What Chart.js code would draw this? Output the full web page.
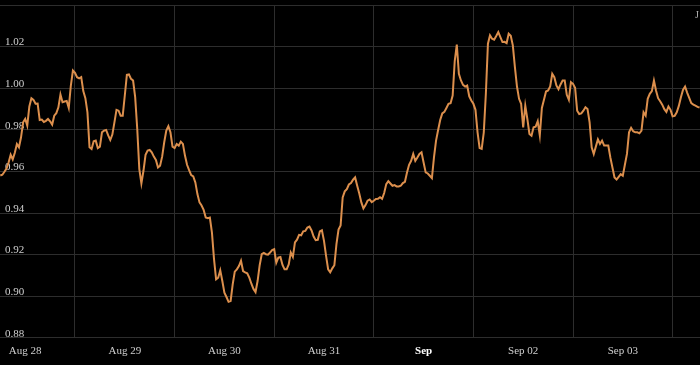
<!DOCTYPE html>
<html>
<head>
<meta charset="utf-8">
<script src="https://cdn.jsdelivr.net/npm/chart.js@4"></script>
<style>
  html, body { margin: 0; padding: 0; background: #000; }
  #contenedor { width: 700px; height: 365px; }
</style>
</head>
<body>
<div id="contenedor"><canvas id="grafica"></canvas></div>
<script>
// serie cada media hora, empezando el 28 ago a las 06:00 (horas desde 28 ago 00:00)
const horaInicio = 6;
const pasoHoras = 0.5;

const valores = [
  0.958, 0.9584, 0.9598, 0.9614, 0.9643, 0.968, 0.9658, 0.969, 0.9732, 0.9716,
  0.9764, 0.9836, 0.9852, 0.982, 0.9912, 0.9952, 0.9944, 0.9925, 0.9926, 0.9847,
  0.9849, 0.9838, 0.9843, 0.9852, 0.9841, 0.9825, 0.9868, 0.988, 0.9908, 0.997,
  0.9933, 0.9936, 0.9939, 0.9905, 1.0013, 1.0085, 1.0074, 1.0053, 1.0047, 1.0053,
  0.9986, 0.9952, 0.9884, 0.9716, 0.9708, 0.9745, 0.9748, 0.9712, 0.9719,
  0.9788, 0.9796, 0.9799, 0.9773, 0.9751, 0.9777, 0.9836, 0.9896, 0.9892, 0.9868,
  0.9868, 0.9965, 1.0064, 1.0066, 1.0045, 1.0037, 0.9957, 0.9804, 0.9611, 0.9542,
  0.9603, 0.968, 0.97, 0.9703, 0.9692, 0.9671, 0.9655, 0.9619, 0.9627, 0.9671,
  0.974, 0.9796, 0.9817, 0.9788, 0.9719, 0.9712, 0.9732, 0.9724, 0.9743, 0.9732,
  0.9676, 0.9632, 0.9606, 0.9582, 0.9576, 0.9547, 0.9491, 0.9451,
  0.9436, 0.9415, 0.9378, 0.9375, 0.9378, 0.9306, 0.9178, 0.9081, 0.9089, 0.9124,
  0.9073, 0.9017, 0.8996, 0.8973, 0.8977, 0.9057, 0.9118, 0.9129, 0.9145, 0.917,
  0.9121, 0.9115, 0.911, 0.9089, 0.906, 0.9035, 0.902, 0.9073, 0.9149, 0.9202,
  0.9208, 0.9202, 0.92, 0.921, 0.9222, 0.9226, 0.9161, 0.9186, 0.9189, 0.915,
  0.9129, 0.9129, 0.9153, 0.921, 0.9189, 0.9259, 0.9272, 0.9295,
  0.9293, 0.9312, 0.9314, 0.933, 0.9335, 0.9316, 0.9287, 0.9269, 0.9271, 0.9311,
  0.9317, 0.9266, 0.9194, 0.9129, 0.9115, 0.9134, 0.9149, 0.925, 0.932, 0.934,
  0.9475, 0.9504, 0.9515, 0.9537, 0.9544, 0.956, 0.9571, 0.9531, 0.9494, 0.9451,
  0.9422, 0.9438, 0.9459, 0.9465, 0.9452, 0.9459, 0.9467, 0.9468, 0.9476, 0.9468,
  0.9496, 0.9539, 0.9553, 0.9542, 0.9531, 0.9534, 0.9528, 0.9528,
  0.9531, 0.9544, 0.955, 0.9595, 0.9632, 0.9651, 0.9684, 0.9651, 0.9667, 0.9684,
  0.9692, 0.9643, 0.9595, 0.959, 0.9579, 0.9568, 0.9667, 0.9748, 0.9799, 0.9847,
  0.9879, 0.9886, 0.9905, 0.9925, 0.9928, 0.9965, 1.013, 1.021, 1.0069, 1.0037,
  1.0016, 1.0008, 1.0013, 0.9961, 0.9941, 0.9925, 0.9896, 0.9788, 0.9712, 0.9708,
  0.9788, 0.9973, 1.0214, 1.0254, 1.0238, 1.0233, 1.0251, 1.027,
  1.0246, 1.0222, 1.0223, 1.0217, 1.0262, 1.0252, 1.0206, 1.0101, 1.0008, 0.9949,
  0.9925, 0.9812, 0.9916, 0.9852, 0.978, 0.9772, 0.9812, 0.9815, 0.9841, 0.9773,
  0.9905, 0.9944, 0.9984, 0.9989, 1.0008, 1.0069, 1.0053, 1.0013, 0.9995, 1.0018,
  1.0037, 1.0037, 0.9968, 0.9944, 1.0029, 1.0021, 1.0002, 0.9892, 0.9876, 0.9879,
  0.9892, 0.9908, 0.99, 0.9836, 0.9716, 0.9684, 0.9719, 0.9754, 0.9732,
  0.9748, 0.9724, 0.9724, 0.9724, 0.9667, 0.9619, 0.9571, 0.9561, 0.9574, 0.9587,
  0.9579, 0.9632, 0.9684, 0.9788, 0.9809, 0.9793, 0.9788, 0.9788, 0.9783, 0.9796,
  0.9884, 0.9868, 0.9949, 0.9973, 0.9986, 1.0037, 0.9989, 0.9952, 0.9937, 0.9921,
  0.9899, 0.9886, 0.9912, 0.9896, 0.9865, 0.9867, 0.9884, 0.9915, 0.9957, 0.9992,
  1.0008, 0.9979, 0.9953, 0.9928, 0.9921, 0.9916, 0.991, 0.9907
];

// cortes de día (horas) y etiqueta del día que empieza 24 h antes
const cortesDia = [24, 48, 72, 96, 120, 144, 168];
const etiquetasDia = ['Aug 28', 'Aug 29', 'Aug 30', 'Aug 31', 'Sep', 'Sep 02', 'Sep 03'];
const marcasY = [0.88, 0.90, 0.92, 0.94, 0.96, 0.98, 1.00, 1.02, 1.04];

const colorRejilla = '#2d2d2d';
const fuente = 'Liberation Serif';

const puntos = valores.map((v, i) => ({ x: horaInicio + i * pasoHoras, y: v }));

// texto recortado arriba a la derecha
const textoEsquina = {
  id: 'textoEsquina',
  afterDraw(chart) {
    const ctx = chart.ctx;
    ctx.save();
    ctx.fillStyle = '#b0b0b0';
    ctx.font = '10px ' + fuente;
    ctx.textBaseline = 'alphabetic';
    ctx.fillText('J', 695, 18);
    ctx.restore();
  }
};

const ctx = document.getElementById('grafica').getContext('2d');
new Chart(ctx, {
  type: 'line',
  data: {
    datasets: [{
      data: puntos,
      borderColor: '#dc8f4d',
      borderWidth: 2,
      pointRadius: 0,
      tension: 0
    }]
  },
  options: {
    responsive: true,
    maintainAspectRatio: false,
    animation: false,
    layout: { padding: { top: 5, bottom: 0, left: 0, right: 0 } },
    plugins: {
      legend: { display: false },
      tooltip: { enabled: false }
    },
    scales: {
      x: {
        type: 'linear',
        min: 5.93,
        max: 174.6,
        afterBuildTicks: s => { s.ticks = cortesDia.map(v => ({ value: v })); },
        afterFit: s => { s.paddingLeft = 0; s.paddingRight = 0; },
        grid: { color: colorRejilla, lineWidth: 1, drawTicks: false },
        border: { display: false },
        ticks: {
          autoSkip: false,
          maxRotation: 0,
          labelOffset: -49.8,
          padding: 7,
          color: c => c.index === 4 ? '#ffffff' : '#cfcfcf',
          font: c => ({ family: fuente, size: 11, weight: c.index === 4 ? 'bold' : 'normal' }),
          callback: (v, i) => etiquetasDia[i]
        }
      },
      y: {
        min: 0.88,
        max: 1.04,
        afterBuildTicks: s => { s.ticks = marcasY.map(v => ({ value: v })); },
        afterFit: s => { s.width = 0; s.paddingTop = 0; s.paddingBottom = 0; },
        grid: { color: colorRejilla, lineWidth: 1, drawTicks: false },
        border: { display: false },
        ticks: {
          mirror: true,
          padding: 5,
          labelOffset: -4,
          color: '#cfcfcf',
          font: { family: fuente, size: 11 },
          callback: v => v > 1.03 ? '' : v.toFixed(2)
        }
      }
    }
  },
  plugins: [textoEsquina]
});
</script>
</body>
</html>
